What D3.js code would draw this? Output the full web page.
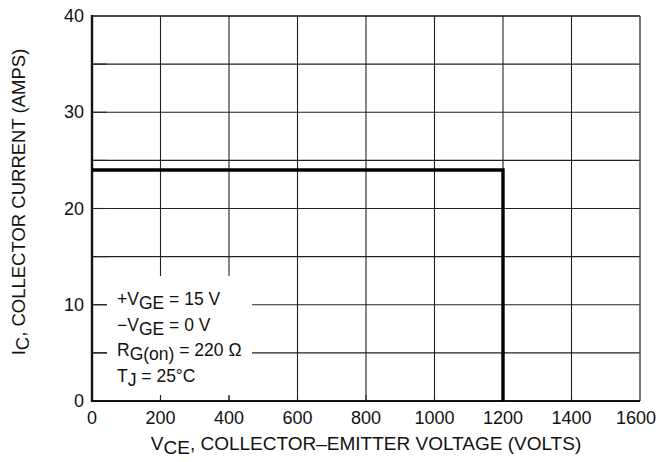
<!DOCTYPE html>
<html>
<head>
<meta charset="utf-8">
<script src="https://cdn.jsdelivr.net/npm/d3@7"></script>
<style>
body { margin: 0; background: #fff; }
text { font-family: "Liberation Sans", Arial, sans-serif; fill: #111; }
</style>
</head>
<body>
<div id="chart"></div>
<script>
// chart values
var vceTicks = [0, 200, 400, 600, 800, 1000, 1200, 1400, 1600];
var icTicks = [0, 10, 20, 30, 40];
var icGrid = [5, 10, 15, 20, 25, 30, 35];
var soaV = [0, 1200, 1200];
var soaI = [24, 24, 0];
var notes = ["+V|GE| = 15 V", "\u2212V|GE| = 0 V", "R|G(on)| = 220 \u03A9", "T|J| = 25\u00B0C"];

var w = 657, h = 462;
var mLeft = 92, mRight = 640, mTop = 16, mBottom = 401;

var svg = d3.select("#chart").append("svg")
  .attr("width", w).attr("height", h);

var x = d3.scaleLinear().domain([0, 1600]).range([mLeft, mRight]);
var y = d3.scaleLinear().domain([0, 40]).range([mBottom, mTop]);

// grid
svg.selectAll("line.vg").data(vceTicks.slice(1, -1)).enter().append("line")
  .attr("x1", d => x(d)).attr("x2", d => x(d))
  .attr("y1", mTop).attr("y2", mBottom)
  .attr("stroke", "#222").attr("stroke-width", 1.1);
svg.selectAll("line.hg").data(icGrid).enter().append("line")
  .attr("x1", mLeft).attr("x2", mRight)
  .attr("y1", d => y(d)).attr("y2", d => y(d))
  .attr("stroke", "#222").attr("stroke-width", 1.1);

// white box behind notes
svg.append("rect").attr("x", 107).attr("y", 276).attr("width", 145).attr("height", 120)
  .attr("fill", "#fff");

// inward ticks
svg.selectAll("line.bt").data(vceTicks.slice(1, -1)).enter().append("line")
  .attr("x1", d => x(d)).attr("x2", d => x(d))
  .attr("y1", mBottom).attr("y2", mBottom - 6)
  .attr("stroke", "#222").attr("stroke-width", 1.1);
svg.selectAll("line.lt").data(icGrid).enter().append("line")
  .attr("x1", mLeft).attr("x2", mLeft + 15)
  .attr("y1", d => y(d)).attr("y2", d => y(d))
  .attr("stroke", "#222").attr("stroke-width", 1.1);

// frame
svg.append("line").attr("x1", mLeft).attr("x2", mRight).attr("y1", mTop).attr("y2", mTop)
  .attr("stroke", "#111").attr("stroke-width", 1.4);
svg.append("line").attr("x1", mRight).attr("x2", mRight).attr("y1", mTop).attr("y2", mBottom)
  .attr("stroke", "#555").attr("stroke-width", 1.6);
svg.append("line").attr("x1", mLeft).attr("x2", mRight).attr("y1", mBottom).attr("y2", mBottom)
  .attr("stroke", "#111").attr("stroke-width", 2.2);
svg.append("line").attr("x1", mLeft).attr("x2", mLeft).attr("y1", mTop - 1).attr("y2", mBottom + 1)
  .attr("stroke", "#111").attr("stroke-width", 2.4);

// SOA boundary
var line = d3.line().x(d => x(d[0])).y(d => y(d[1]));
svg.append("path").datum(d3.zip(soaV, soaI))
  .attr("d", line).attr("fill", "none")
  .attr("stroke", "#000").attr("stroke-width", 3.4);

// tick labels (last one kept inside the page)
svg.selectAll("text.xl").data(vceTicks).enter().append("text")
  .attr("x", d => Math.min(x(d), 636)).attr("y", 424)
  .attr("text-anchor", "middle").attr("font-size", 18)
  .text(d => d);
svg.selectAll("text.yl").data(icTicks).enter().append("text")
  .attr("x", 84).attr("y", d => y(d) + 6)
  .attr("text-anchor", "end").attr("font-size", 18)
  .text(d => d);

// text with subscripts, parts split by |
function subText(sel, str, size) {
  str.split("|").forEach(function(p, i) {
    sel.append("tspan").text(p)
      .attr("dy", i == 0 ? null : (i % 2 ? 4 : -4))
      .attr("font-size", size);
  });
}

notes.forEach(function(n, i) {
  var t = svg.append("text").attr("x", 117).attr("y", 305 + i * 25.5);
  subText(t, n, 17.5);
});

var xt = svg.append("text").attr("x", 366).attr("y", 450).attr("text-anchor", "middle");
subText(xt, "V|CE|, COLLECTOR\u2013EMITTER VOLTAGE (VOLTS)", 19);

var yt = svg.append("text").attr("transform", "translate(25,202) rotate(-90)")
  .attr("text-anchor", "middle");
subText(yt, "I|C|, COLLECTOR CURRENT (AMPS)", 18.5);
</script>
</body>
</html>
